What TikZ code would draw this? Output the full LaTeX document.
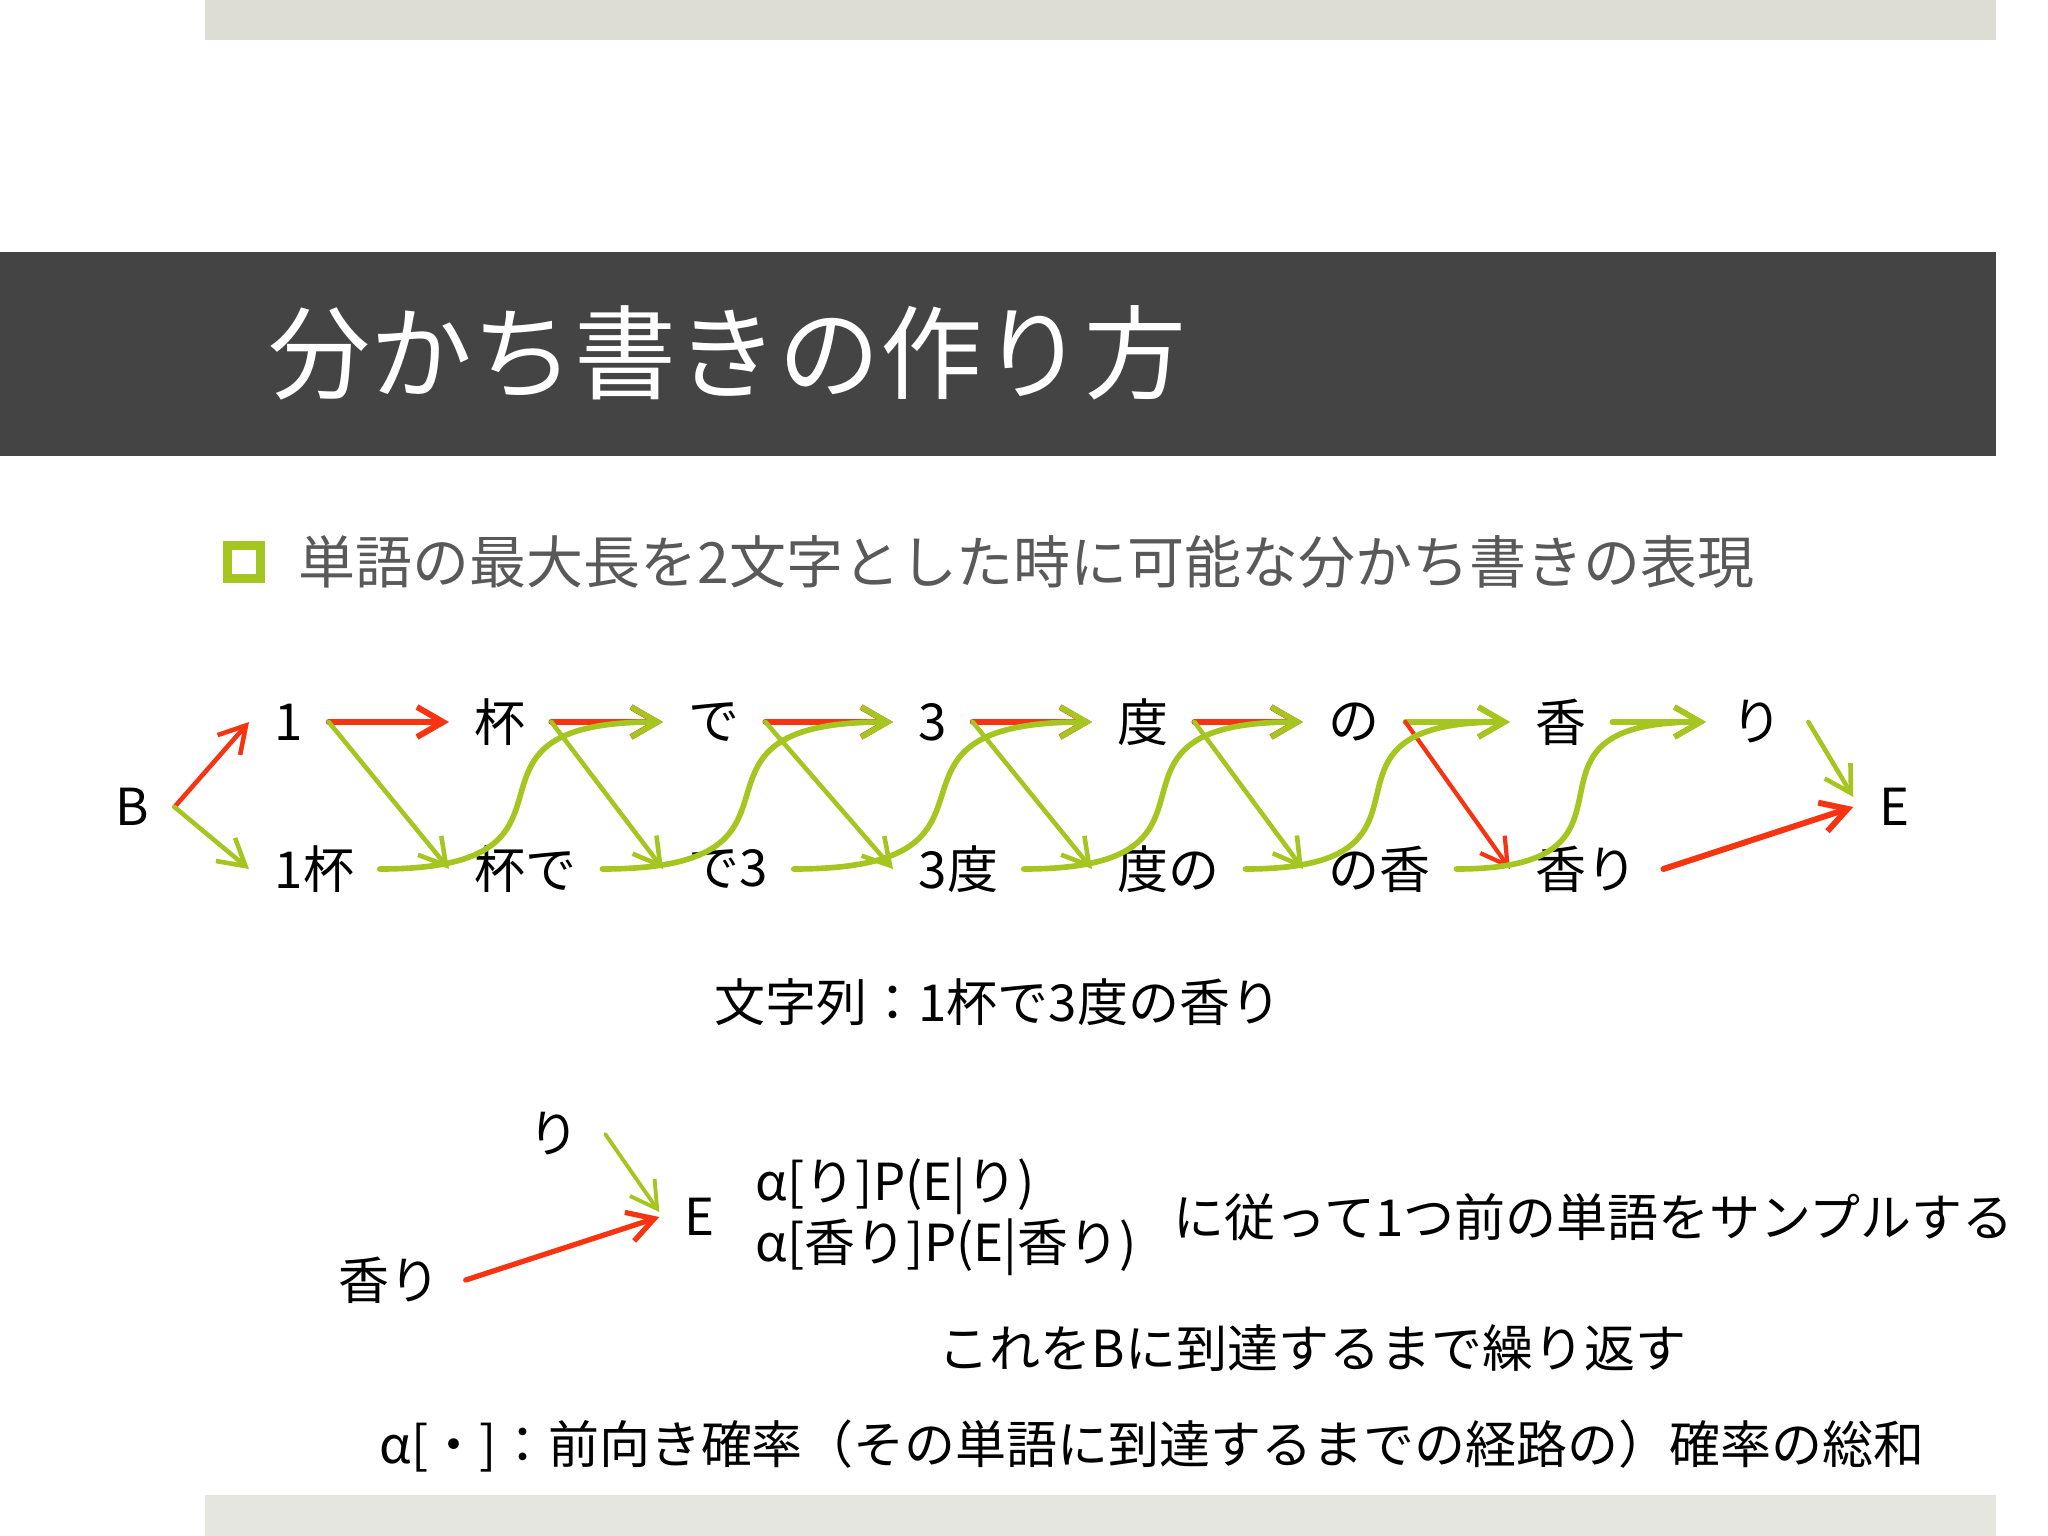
\documentclass[tikz,border=0pt]{standalone}
\usepackage{fontspec}
\setmainfont{Noto Sans CJK JP}
\usetikzlibrary{positioning, arrows.meta, calc}

\definecolor{pathred}{RGB}{246,52,18}
\definecolor{pathgreen}{RGB}{165,198,32}
\definecolor{titlebar}{RGB}{68,68,68}
\definecolor{stripTop}{RGB}{221,221,214}
\definecolor{stripBottom}{RGB}{230,230,225}
\definecolor{subgray}{RGB}{89,89,89}

\begin{document}
\begin{tikzpicture}[
    x=0.01cm, y=-0.01cm,
    every node/.style={font=\fontsize{14.5}{17}\selectfont},
    word/.style={anchor=west, inner sep=2.5mm},
    endpoint/.style={inner sep=2.5mm},
    textline/.style={anchor=west, inner sep=0pt},
    arrow/.style={-{Straight Barb[length=2.6mm, width=3mm]}, line cap=round, line join=round},
    redarrow/.style={arrow, draw=pathred, line width=1.7pt},
    greenarrow/.style={arrow, draw=pathgreen, line width=1.6pt},
    thinred/.style={arrow, draw=pathred, line width=1.2pt},
    thingreen/.style={arrow, draw=pathgreen, line width=1.3pt},
    swoop/.style={greenarrow, out=0, in=180, looseness=1.9},
    bullet/.style={rectangle, draw=pathgreen, fill=white, line width=2.5pt, minimum size=3.3mm, inner sep=0pt}
]
\useasboundingbox (0,0) rectangle (2048,1536);
\fill[white] (0,0) rectangle (2048,1536);

% Slide frame
\fill[stripTop] (205,0) rectangle (1996,40);
\fill[titlebar] (0,252) rectangle (1996,456);
\fill[stripBottom] (205,1495) rectangle (1996,1536);

\node[textline, text=white, font=\fontsize{29}{34}\selectfont] (title) at (268,353) {分かち書きの作り方};
\node[bullet] (bullet) at (244,562) {};
\node[textline, text=subgray, font=\fontsize{16.2}{19}\selectfont] (subtitle) at (298,562) {単語の最大長を2文字とした時に可能な分かち書きの表現};

% Lattice nodes
\node[endpoint] (B) at (132,807) {B};
\node[endpoint] (E) at (1894,807) {E};
\foreach \w/\x [count=\i] in {1/274, 杯/474, で/688, 3/918, 度/1117, の/1328, 香/1535, り/1731}
    \node[word] (top-\i) at (\x-25,722) {\w};
\foreach \w/\x [count=\i] in {1杯/274, 杯で/474, で3/688, 3度/918, 度の/1117, の香/1328, 香り/1535}
    \node[word] (bot-\i) at (\x-25,869) {\w};

% Edges out of B
\draw[redarrow, line width=1.3pt] (B.east) -- (top-1.west);
\draw[greenarrow, line width=1.3pt] (B.east) -- (bot-1.west);

% One-character steps along the top row
\foreach \i [evaluate=\i as \j using int(\i+1)] in {1,...,7}{
    \ifnum\i<6\relax
        \draw[redarrow] (top-\i.east) -- (top-\j.west);
    \else
        \draw[greenarrow] (top-\i.east) -- (top-\j.west);
    \fi
}

% Top row down to two-character words
\foreach \i [evaluate=\i as \j using int(\i+1)] in {1,...,5}
    \draw[thingreen] (top-\i.east) -- (bot-\j.west);
\draw[thinred] (top-6.east) -- (bot-7.west);

% Two-character words up to the top row
\foreach \i [evaluate=\i as \k using int(\i+2)] in {1,...,6}
    \draw[swoop] (bot-\i.east) to (top-\k.west);

% Into E
\draw[thingreen] (top-8.east) -- ([yshift=1mm]E.west);
\draw[redarrow] (bot-7.east) -- (E.west);

\node[textline] (string) at (714,1002) {文字列：1杯で3度の香り};

% Backward sampling step
\node[endpoint] (s-ri) at (554,1134) {り};
\node[endpoint] (s-kaori) at (389,1280) {香り};
\node[endpoint] (s-E) at (700,1217) {E};
\draw[thingreen, line width=1.1pt] (s-ri.east) -- ([yshift=0.5mm]s-E.west);
\draw[redarrow, line width=1.5pt] (s-kaori.east) -- (s-E.west);

\node[textline] (alpha-ri) at (755,1186) {α[り]P(E|り)};
\node[textline] (alpha-kaori) at (755,1247) {α[香り]P(E|香り)};
\node[textline] (follow) at (1173,1217) {に従って1つ前の単語をサンプルする};
\node[textline] (repeat) at (938,1348) {これをBに到達するまで繰り返す};
\node[textline] (note) at (379,1446) {α[・]：前向き確率（その単語に到達するまでの経路の）確率の総和};

\end{tikzpicture}
\end{document}
